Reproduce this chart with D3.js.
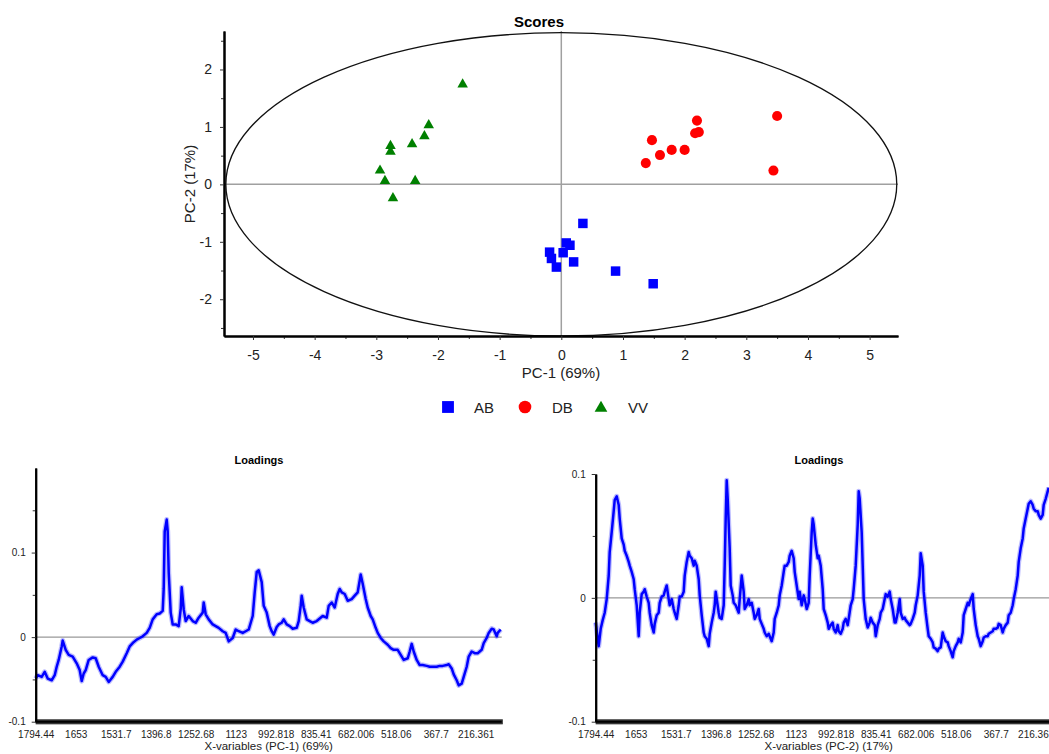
<!DOCTYPE html>
<html>
<head>
<meta charset="utf-8">
<script src="https://cdn.jsdelivr.net/npm/d3@7"></script>
<style>
  html, body { margin: 0; padding: 0; background: #ffffff; }
  svg { display: block; font-family: "Liberation Sans", Arial, sans-serif; }
</style>
</head>
<body>
<svg id="chart" width="1049" height="754"></svg>
<script>
// ---- Scores (PC-1 vs PC-2) ----
const groupNames = ["AB", "DB", "VV"];
const groupColors = ["#0000ff", "#ff0000", "#008000"];

const scoresAB = [[-0.19,-1.18],[-0.16,-1.29],[-0.08,-1.44],[0.03,-1.19],[0.08,-1.02],
                  [0.14,-1.06],[0.20,-1.35],[0.35,-0.68],[0.88,-1.51],[1.49,-1.73]];
const scoresDB = [[3.50,1.19],[3.44,0.24],[2.20,1.11],[2.23,0.91],[2.17,0.89],
                  [2.00,0.60],[1.79,0.60],[1.60,0.51],[1.47,0.77],[1.37,0.37]];
const scoresVV = [[-1.60,1.74],[-2.15,1.03],[-2.22,0.84],[-2.42,0.70],[-2.77,0.67],
                  [-2.77,0.57],[-2.94,0.24],[-2.86,0.06],[-2.37,0.06],[-2.73,-0.24]];

// Hotelling T2 ellipse half-axes (PC-1, PC-2)
const ellipseRadii = [5.44, 2.64];

const scoreTicksX = [-5, -4, -3, -2, -1, 0, 1, 2, 3, 4, 5];
const scoreTicksY = [-2, -1, 0, 1, 2];

// ---- Loadings ----
const variableLabels = ["1794.44", "1653", "1531.7", "1396.8", "1252.68", "1123",
                        "992.818", "835.41", "682.006", "518.06", "367.7", "216.361"];
const variableCount = 467;
const labelStep = 40;

// [variable index, loading]
const loadingsPC1 = [[0,-0.049],[2,-0.045],[6,-0.047],[9,-0.041],[12,-0.049],[16,-0.051],[19,-0.045],[21,-0.035],
  [23,-0.027],[26,-0.011],[27,-0.004],[30,-0.015],[33,-0.021],[37,-0.023],[41,-0.031],[44,-0.039],[46,-0.052],
  [48,-0.043],[50,-0.039],[53,-0.027],[57,-0.024],[60,-0.025],[63,-0.035],[67,-0.045],[70,-0.047],[73,-0.053],
  [77,-0.047],[80,-0.041],[84,-0.035],[87,-0.029],[91,-0.019],[94,-0.011],[97,-0.007],[101,-0.003],[104,-0.001],
  [107,0.001],[111,0.005],[114,0.011],[117,0.021],[121,0.027],[124,0.028],[127,0.031],[128,0.057],[129,0.125],
  [131,0.139],[132,0.125],[133,0.077],[135,0.029],[137,0.015],[140,0.015],[143,0.013],[145,0.033],[146,0.059],
  [148,0.033],[150,0.019],[153,0.025],[157,0.019],[160,0.017],[163,0.023],[167,0.029],[168,0.041],[170,0.027],
  [173,0.021],[177,0.015],[180,0.013],[183,0.011],[187,0.007],[190,0.005],[193,-0.005],[197,-0.001],[200,0.009],
  [203,0.007],[207,0.005],[210,0.007],[213,0.009],[217,0.025],[219,0.053],[221,0.077],[223,0.079],[226,0.065],
  [228,0.037],[231,0.029],[234,0.013],[236,0.007],[238,0.003],[241,0.012],[243,0.015],[246,0.017],[248,0.021],
  [251,0.015],[254,0.013],[257,0.010],[261,0.011],[263,0.019],[265,0.037],[266,0.049],[268,0.035],[271,0.021],
  [274,0.019],[277,0.017],[281,0.019],[284,0.022],[287,0.025],[291,0.023],[293,0.037],[296,0.041],[299,0.035],
  [302,0.051],[304,0.057],[306,0.053],[309,0.051],[312,0.043],[316,0.045],[319,0.049],[322,0.053],[324,0.067],
  [325,0.074],[327,0.063],[330,0.045],[332,0.035],[335,0.025],[337,0.021],[340,0.011],[342,0.005],[345,-0.001],
  [348,-0.005],[352,-0.009],[355,-0.013],[358,-0.015],[362,-0.015],[365,-0.021],[368,-0.027],[372,-0.025],
  [374,-0.017],[376,-0.008],[378,-0.017],[381,-0.027],[384,-0.033],[387,-0.033],[391,-0.034],[394,-0.035],
  [397,-0.035],[401,-0.035],[404,-0.034],[407,-0.034],[411,-0.033],[413,-0.032],[416,-0.037],[418,-0.044],
  [421,-0.051],[423,-0.057],[426,-0.055],[428,-0.047],[431,-0.035],[433,-0.023],[436,-0.017],[439,-0.019],
  [442,-0.019],[446,-0.015],[448,-0.007],[451,-0.001],[453,0.005],[456,0.010],[458,0.009],[461,0.001],
  [462,0.005],[465,0.009]];

const loadingsPC2 = [[0,-0.020],[2,-0.033],[3,-0.039],[5,-0.025],[7,-0.018],[9,-0.012],[11,-0.001],[13,0.018],
  [14,0.037],[16,0.053],[18,0.070],[19,0.079],[21,0.082],[23,0.075],[24,0.064],[26,0.048],[28,0.043],[29,0.038],
  [31,0.034],[33,0.029],[34,0.026],[36,0.021],[38,0.015],[39,0.007],[41,-0.006],[43,-0.031],[44,-0.012],[46,0.003],
  [48,0.005],[49,0.007],[51,0.001],[53,-0.004],[54,-0.012],[56,-0.022],[58,-0.028],[59,-0.021],[61,-0.014],
  [63,-0.012],[64,-0.004],[66,0.001],[68,0.002],[69,0.005],[71,0.010],[73,-0.001],[74,-0.006],[76,-0.001],
  [78,-0.009],[79,-0.012],[81,-0.017],[83,-0.006],[84,0.001],[86,0.001],[88,0.005],[89,0.018],[91,0.029],
  [93,0.037],[94,0.034],[96,0.032],[98,0.026],[99,0.030],[101,0.026],[103,0.015],[104,0.002],[106,-0.014],
  [108,-0.028],[109,-0.031],[111,-0.033],[113,-0.039],[114,-0.029],[116,-0.020],[118,-0.012],[119,-0.006],
  [120,0.005],[123,-0.012],[124,-0.016],[126,-0.017],[128,-0.006],[129,0.026],[130,0.064],[131,0.095],[132,0.080],
  [134,0.040],[135,0.010],[137,0.002],[138,-0.004],[140,-0.006],[143,-0.012],[144,-0.001],[146,0.018],[148,0.005],
  [149,-0.009],[151,-0.006],[153,-0.001],[154,-0.006],[156,-0.004],[158,-0.012],[159,-0.017],[161,-0.014],
  [163,-0.009],[164,-0.017],[166,-0.021],[168,-0.025],[169,-0.028],[171,-0.031],[173,-0.029],[174,-0.031],
  [176,-0.035],[178,-0.028],[179,-0.017],[181,-0.012],[183,-0.006],[184,0.002],[186,0.010],[188,0.021],
  [189,0.026],[191,0.026],[193,0.029],[194,0.034],[196,0.038],[198,0.032],[199,0.021],[201,0.010],[203,-0.001],
  [204,0.005],[206,-0.006],[208,0.002],[209,-0.001],[211,-0.009],[213,-0.004],[214,0.018],[216,0.053],[217,0.064],
  [218,0.059],[220,0.043],[222,0.032],[223,0.034],[225,0.026],[227,0.007],[228,-0.009],[230,-0.014],[232,-0.020],
  [233,-0.025],[235,-0.022],[237,-0.020],[238,-0.025],[240,-0.028],[242,-0.022],[243,-0.027],[245,-0.029],
  [247,-0.025],[248,-0.020],[250,-0.017],[252,-0.022],[253,-0.017],[255,-0.006],[257,-0.001],[258,0.007],
  [260,0.026],[262,0.059],[263,0.086],[264,0.080],[266,0.053],[267,0.026],[268,-0.001],[270,-0.017],[272,-0.024],
  [274,-0.020],[275,-0.016],[277,-0.020],[279,-0.022],[280,-0.031],[282,-0.022],[284,-0.017],[285,-0.012],
  [287,-0.009],[289,-0.001],[290,0.003],[292,0.001],[294,0.005],[295,-0.001],[297,-0.009],[299,-0.020],
  [300,-0.020],[302,-0.012],[304,-0.001],[305,-0.012],[307,-0.017],[309,-0.016],[310,-0.018],[312,-0.020],
  [314,-0.022],[315,-0.021],[317,-0.017],[319,-0.012],[320,-0.006],[322,0.002],[324,0.018],[325,0.036],
  [327,0.026],[328,0.005],[330,-0.012],[332,-0.025],[333,-0.031],[335,-0.033],[337,-0.036],[338,-0.040],
  [340,-0.041],[342,-0.043],[343,-0.041],[345,-0.040],[347,-0.028],[348,-0.031],[350,-0.035],[352,-0.036],
  [353,-0.039],[355,-0.043],[357,-0.048],[358,-0.043],[360,-0.039],[362,-0.036],[363,-0.033],[365,-0.036],
  [367,-0.028],[368,-0.014],[370,-0.009],[372,-0.004],[373,-0.006],[375,-0.001],[377,0.003],[378,-0.009],
  [380,-0.022],[382,-0.031],[383,-0.033],[385,-0.039],[387,-0.035],[388,-0.032],[390,-0.031],[392,-0.031],
  [393,-0.029],[395,-0.028],[397,-0.027],[398,-0.025],[400,-0.025],[402,-0.024],[403,-0.021],[405,-0.022],
  [407,-0.028],[408,-0.025],[410,-0.022],[412,-0.020],[413,-0.014],[415,-0.012],[417,-0.006],[418,-0.001],
  [420,0.007],[422,0.018],[423,0.029],[425,0.040],[427,0.048],[428,0.056],[430,0.064],[432,0.072],[433,0.076],
  [435,0.078],[437,0.075],[438,0.072],[440,0.070],[442,0.070],[443,0.067],[445,0.064],[447,0.067],[448,0.075],
  [450,0.080],[452,0.086],[453,0.089]];

const svg = d3.select("#chart");
svg.append("rect").attr("width", 1049).attr("height", 754).attr("fill", "#ffffff");

const textColor = "#222222";
const plainFormat = d => String(d);

function styleAxis(g, fontSize) {
  g.selectAll("path.domain").attr("stroke", "#000").attr("stroke-width", 2);
  g.selectAll(".tick line").attr("stroke", "#333").attr("stroke-width", 1);
  g.selectAll(".tick text").attr("fill", textColor).attr("font-size", fontSize)
    .attr("font-family", "'Liberation Sans', Arial, sans-serif");
}

// ================= Scores =================
const sx = d3.scaleLinear().domain([-5.47, 5.46]).range([224, 898]);
const sy = d3.scaleLinear().domain([-2.64, 2.67]).range([336, 31]);

svg.append("text").attr("x", 539).attr("y", 27).attr("text-anchor", "middle")
  .attr("font-size", 15).attr("font-weight", "bold").attr("fill", "#000").text("Scores");

// zero cross-hair
svg.append("line").attr("x1", sx(0)).attr("x2", sx(0)).attr("y1", sy.range()[1]).attr("y2", sy.range()[0])
  .attr("stroke", "#a0a0a0").attr("stroke-width", 1.5);
svg.append("line").attr("x1", sx.range()[0]).attr("x2", sx.range()[1]).attr("y1", sy(0)).attr("y2", sy(0))
  .attr("stroke", "#a0a0a0").attr("stroke-width", 1.5);

// confidence ellipse
svg.append("ellipse")
  .attr("cx", sx(0)).attr("cy", sy(0))
  .attr("rx", sx(ellipseRadii[0]) - sx(0))
  .attr("ry", sy(0) - sy(ellipseRadii[1]))
  .attr("fill", "none").attr("stroke", "#111").attr("stroke-width", 1.3);

// minor ticks
const halfX = d3.range(-5, 5.5, 0.5).filter(v => !Number.isInteger(v));
const halfY = d3.range(-2.5, 3, 0.5).filter(v => !Number.isInteger(v));
svg.append("g").attr("transform", "translate(0,336)")
  .call(d3.axisBottom(sx).tickValues(halfX).tickSize(3).tickFormat("").tickSizeOuter(0))
  .call(g => styleAxis(g, 14));
svg.append("g").attr("transform", "translate(224,0)")
  .call(d3.axisLeft(sy).tickValues(halfY).tickSize(3).tickFormat("").tickSizeOuter(0))
  .call(g => styleAxis(g, 14));

// major axes
svg.append("g").attr("transform", "translate(0,336)")
  .call(d3.axisBottom(sx).tickValues(scoreTicksX).tickSize(4).tickPadding(10)
    .tickFormat(plainFormat).tickSizeOuter(0))
  .call(g => styleAxis(g, 14));
svg.append("g").attr("transform", "translate(224,0)")
  .call(d3.axisLeft(sy).tickValues(scoreTicksY).tickSize(4).tickPadding(8)
    .tickFormat(plainFormat).tickSizeOuter(0))
  .call(g => styleAxis(g, 14));

svg.append("text").attr("x", 561).attr("y", 378).attr("text-anchor", "middle")
  .attr("font-size", 15).attr("fill", textColor).text("PC-1 (69%)");
svg.append("text").attr("transform", "translate(194.5,184) rotate(-90)").attr("text-anchor", "middle")
  .attr("font-size", 15).attr("fill", textColor).text("PC-2 (17%)");

// points
const symbolTypes = [d3.symbolSquare, d3.symbolCircle, d3.symbolTriangle];
const symbolSizes = [90, 80, 48];
const groupScores = [scoresAB, scoresDB, scoresVV];
groupScores.forEach((pts, gi) => {
  svg.append("g").selectAll("path").data(pts).join("path")
    .attr("transform", d => `translate(${sx(d[0])},${sy(d[1])})`)
    .attr("d", d3.symbol().type(symbolTypes[gi]).size(symbolSizes[gi]))
    .attr("fill", groupColors[gi]);
});

// legend
const legendSymbolX = [448, 525, 601];
const legendTextX = [474, 552, 628];
const legendSizes = [140, 125, 70];
groupNames.forEach((name, gi) => {
  svg.append("path")
    .attr("transform", `translate(${legendSymbolX[gi]},${gi === 2 ? 408 : 407})`)
    .attr("d", d3.symbol().type(symbolTypes[gi]).size(legendSizes[gi]))
    .attr("fill", groupColors[gi]);
  svg.append("text").attr("x", legendTextX[gi]).attr("y", 412.5)
    .attr("font-size", 15).attr("fill", textColor).text(name);
});

// ================= Loadings =================
function drawLoadings(opts) {
  const x = d3.scaleLinear().domain([0, variableCount - 1]).range([opts.left, opts.left + 466]);
  const y = d3.scaleLinear().domain(opts.yDomain).range([721.7, opts.top]);
  const g = svg.append("g");

  g.append("text").attr("x", opts.titleX).attr("y", 464).attr("text-anchor", "middle")
    .attr("font-size", 11).attr("font-weight", "bold").attr("fill", "#000").text("Loadings");

  // zero reference line
  g.append("line").attr("x1", x(0)).attr("x2", x(variableCount - 1)).attr("y1", y(0)).attr("y2", y(0))
    .attr("stroke", "#999").attr("stroke-width", 1.2);

  // loading curve with a soft halo
  const line = d3.line().x(d => x(d[0])).y(d => y(d[1]));
  g.append("path").datum(opts.data).attr("d", line)
    .attr("fill", "none").attr("stroke", "#3c3cff").attr("stroke-opacity", 0.35)
    .attr("stroke-width", 5).attr("stroke-linejoin", "round");
  g.append("path").datum(opts.data).attr("d", line)
    .attr("fill", "none").attr("stroke", "#0000ff").attr("stroke-width", 2.5)
    .attr("stroke-linejoin", "round");

  // y axis
  g.append("g").attr("transform", `translate(${opts.left},0)`)
    .call(d3.axisLeft(y).tickValues(opts.yMinor).tickSize(3).tickFormat("").tickSizeOuter(0))
    .call(a => styleAxis(a, 10));
  g.append("g").attr("transform", `translate(${opts.left},0)`)
    .call(d3.axisLeft(y).tickValues([-0.1, 0, 0.1]).tickSize(4).tickPadding(6)
      .tickFormat(plainFormat).tickSizeOuter(0))
    .call(a => styleAxis(a, 10));

  // x axis: one tick per variable forms the dense bar
  g.append("g").attr("transform", "translate(0,719.3)")
    .call(d3.axisBottom(x).tickValues(d3.range(0, variableCount, 1)).tickSize(5).tickFormat("").tickSizeOuter(0))
    .call(a => {
      a.select("path.domain").remove();
      a.selectAll(".tick line").attr("stroke", "#000").attr("stroke-width", 1);
    });
  g.append("line").attr("x1", x(0)).attr("x2", x(variableCount - 1)).attr("y1", 721.7).attr("y2", 721.7)
    .attr("stroke", "#000").attr("stroke-width", 2);
  g.append("g").attr("transform", "translate(0,722)")
    .call(d3.axisBottom(x).tickValues(variableLabels.map((_, i) => i * labelStep))
      .tickSize(0).tickPadding(9).tickFormat(d => variableLabels[d / labelStep]).tickSizeOuter(0))
    .call(a => { a.select("path.domain").remove(); styleAxis(a, 10); });

  g.append("text").attr("x", opts.left + 233).attr("y", 749.5).attr("text-anchor", "middle")
    .attr("font-size", 11.5).attr("fill", textColor).text(opts.axisTitle);
}

drawLoadings({
  left: 35.7, top: 468, yDomain: [-0.1, 0.2], yMinor: [-0.05, 0.05, 0.15],
  data: loadingsPC1, titleX: 259, axisTitle: "X-variables (PC-1) (69%)"
});
drawLoadings({
  left: 595.7, top: 474, yDomain: [-0.1, 0.1], yMinor: [-0.05, 0.05],
  data: loadingsPC2, titleX: 819, axisTitle: "X-variables (PC-2) (17%)"
});
</script>
</body>
</html>
